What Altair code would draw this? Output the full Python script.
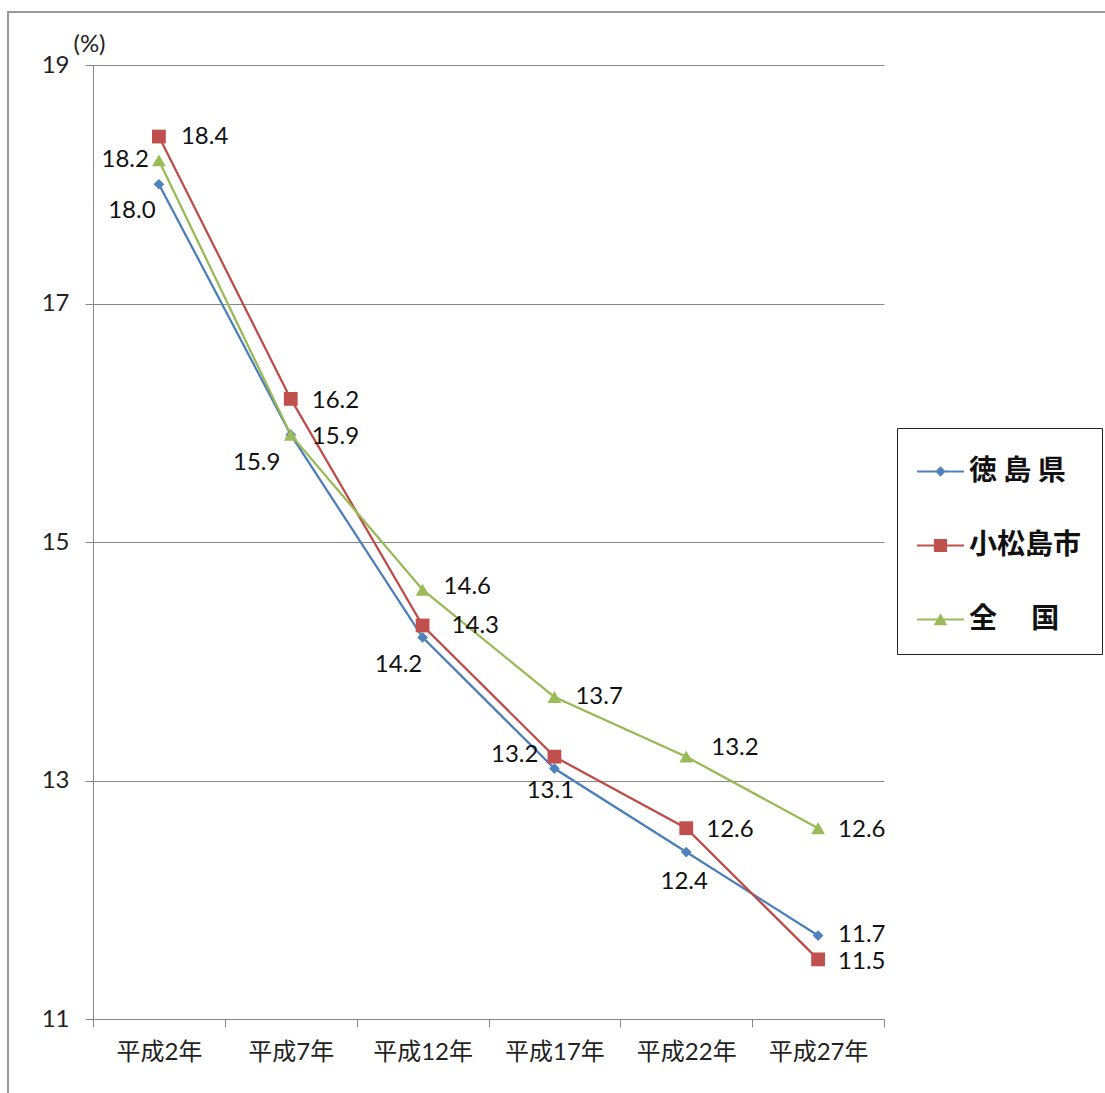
import altair as alt
import pandas as pd

# ---- data ----
categories = ["平成2年", "平成7年", "平成12年", "平成17年", "平成22年", "平成27年"]
series_names = ["徳島県", "小松島市", "全国"]
tokushima = [18.0, 15.9, 14.2, 13.1, 12.4, 11.7]
komatsushima = [18.4, 16.2, 14.3, 13.2, 12.6, 11.5]
zenkoku = [18.2, 15.9, 14.6, 13.7, 13.2, 12.6]
y_ticks = [11, 13, 15, 17, 19]

# ---- styling ----
line_colors = ["#4A7EBB", "#BE4B48", "#98B954"]
marker_colors = ["#4F81BD", "#C0504D", "#9BBB59"]
marker_shapes = ["diamond", "square", "triangle-up"]
marker_sizes = [115, 190, 190]

# label placement per point: (dx, dy, align)
label_layout = {
    "徳島県": [(-27, 27, "center"), (-34, 28, "center"), (-24, 28, "center"),
              (-4, 22, "center"), (-2, 30, "center"), (20, -1, "left")],
    "小松島市": [(22, 0, "left"), (21, 2, "left"), (29, 1, "left"),
               (-16, -2, "right"), (20, 2, "left"), (20, 3, "left")],
    "全国": [(-10, 0, "right"), (21, 2, "left"), (21, -3, "left"),
           (21, 0, "left"), (25, -9, "left"), (20, 2, "left")],
}

rows = []
for s, vals in zip(series_names, [tokushima, komatsushima, zenkoku]):
    for c, v in zip(categories, vals):
        rows.append({"series": s, "category": c, "value": v, "label": f"{v:.1f}"})
df = pd.DataFrame(rows)

W, H = 791, 954
FONT = "Lato, 'Noto Sans CJK JP'"
GRAY = "#888888"

x_enc = alt.X(
    "category:N",
    sort=categories,
    bandPosition=0.5,
    scale=alt.Scale(type="band", domain=categories, paddingInner=0, paddingOuter=0),
    axis=alt.Axis(
        title=None, labelAngle=0, tickBand="extent", domainColor=GRAY, tickColor=GRAY,
        tickSize=8, labelFont=FONT, labelFontSize=24, labelColor="#222222",
        labelPadding=13, grid=False,
    ),
)
y_enc = alt.Y(
    "value:Q",
    scale=alt.Scale(domain=[11, 19], nice=False, zero=False),
    axis=alt.Axis(
        values=y_ticks, grid=True, gridColor=GRAY, gridWidth=1, domainColor=GRAY,
        tickColor=GRAY, tickSize=8, labelFont=FONT, labelFontSize=24,
        labelColor="#222222", labelPadding=16,
        title="(%)", titleAngle=0, titleX=-4, titleY=-21, titleAlign="center",
        titleBaseline="middle", titleFont=FONT, titleFontSize=24,
        titleFontWeight="normal", titleColor="#222222",
    ),
)

layers = []

# outer frame
frame = alt.Chart(pd.DataFrame({"f": [0]})).mark_rect(
    filled=False, stroke="#9a9a9a", strokeWidth=2
).encode(x=alt.value(-85), x2=alt.value(1100), y=alt.value(-53), y2=alt.value(1100))
layers.append(frame)

for s, lc in zip(series_names, line_colors):
    layers.append(
        alt.Chart(df).transform_filter(alt.datum.series == s)
        .mark_line(color=lc, strokeWidth=2.25)
        .encode(x=x_enc, y=y_enc)
    )
for s, mc, shp, sz in zip(series_names, marker_colors, marker_shapes, marker_sizes):
    layers.append(
        alt.Chart(df).transform_filter(alt.datum.series == s)
        .mark_point(filled=True, shape=shp, size=sz, color=mc, opacity=1)
        .encode(x=x_enc, y=y_enc)
    )

for s in series_names:
    for c, (dx, dy, al) in zip(categories, label_layout[s]):
        layers.append(
            alt.Chart(df)
            .transform_filter((alt.datum.series == s) & (alt.datum.category == c))
            .mark_text(dx=dx, dy=dy, align=al, baseline="middle", font=FONT,
                       fontSize=24, color="#111111")
            .encode(x=x_enc, y=y_enc, text="label:N")
        )

# legend (from an empty layer carrying the series scale)
h = 0.045
legend_paths = [
    f"M-1,{-h}L1,{-h}L1,{h}L-1,{h}Z M0,-0.22L0.22,0L0,0.22L-0.22,0Z",
    f"M-1,{-h}L1,{-h}L1,{h}L-1,{h}Z M-0.28,-0.28L0.28,-0.28L0.28,0.28L-0.28,0.28Z",
    f"M-1,{-h}L1,{-h}L1,{h}L-1,{h}Z M0,-0.27L0.29,0.24L-0.29,0.24Z",
]
label_expr = ("datum.label == '徳島県' ? '徳 島 県' : "
              "datum.label == '全国' ? '全　 国' : datum.label")
legend_cfg = dict(
    title=None, orient="none", legendX=804, legendY=363, direction="vertical",
    strokeColor="#222222", padding=20, symbolSize=2209, symbolStrokeWidth=0,
    labelFont="'Noto Sans CJK JP'", labelFontSize=28, labelFontWeight="bold",
    labelColor="#111111", labelOffset=5, rowPadding=36, labelExpr=label_expr,
    fillColor="white",
)
legend_layer = (
    alt.Chart(df).transform_filter("false")
    .mark_point(filled=True, opacity=1)
    .encode(
        color=alt.Color("series:N", scale=alt.Scale(domain=series_names, range=marker_colors),
                        legend=alt.Legend(**legend_cfg)),
        shape=alt.Shape("series:N", scale=alt.Scale(domain=series_names, range=legend_paths),
                        legend=alt.Legend(**legend_cfg)),
    )
)
layers.append(legend_layer)

chart = (
    alt.layer(*layers)
    .properties(
        width=W, height=H,
        autosize=alt.AutoSizeParams(type="none"),
        padding={"left": 93, "top": 65, "right": 221, "bottom": 74},
        background="white",
    )
    .configure_view(stroke=None)
)

chart.save("out.html", embed_options={"renderer": "svg", "actions": False})
